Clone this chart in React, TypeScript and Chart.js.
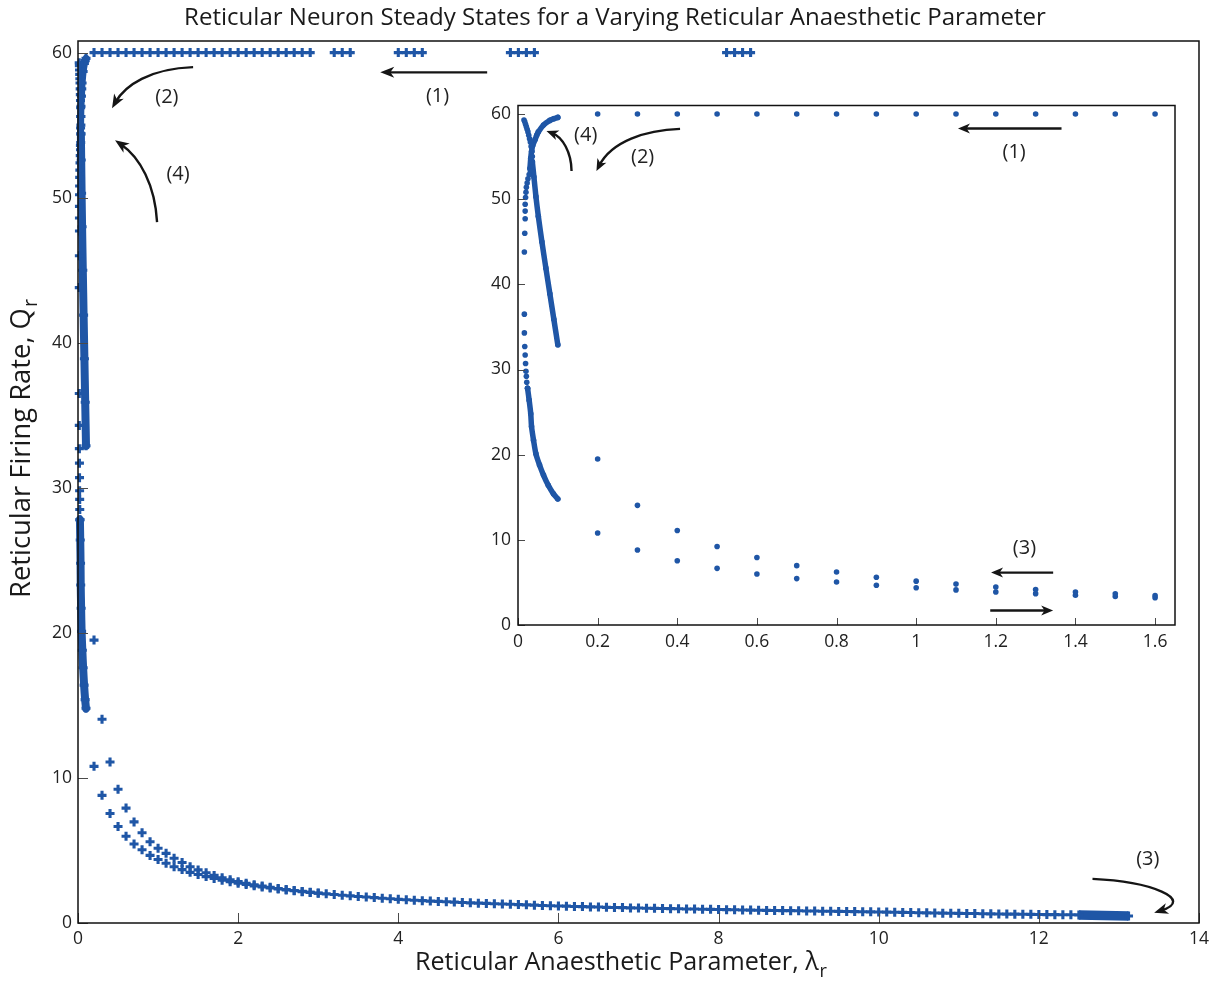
import React, { useEffect, useRef } from 'react';
import { Chart, registerables } from 'chart.js';

Chart.register(...registerables);

// ---------------- data ----------------
const BLUE = '#1f56a6';
const INK = '#222222';
const FONT = "'Open Sans', 'DejaVu Sans', sans-serif";

const TITLE = 'Reticular Neuron Steady States for a Varying Reticular Anaesthetic Parameter';
const X_TITLE = 'Reticular Anaesthetic Parameter, \u03bb';
const Y_TITLE = 'Reticular Firing Rate, Q';
const SUB = 'r';

const MAIN_X_TICKS = [0, 2, 4, 6, 8, 10, 12, 14];
const MAIN_Y_TICKS = [0, 10, 20, 30, 40, 50, 60];
const INSET_X_TICKS = [0, 0.2, 0.4, 0.6, 0.8, 1, 1.2, 1.4, 1.6];
const INSET_Y_TICKS = [0, 10, 20, 30, 40, 50, 60];

// upper steady state (saturated at 60)
const UPPER_STATE = 60;
const TOP_X = [
  0.2, 0.3, 0.4, 0.5, 0.6, 0.7, 0.8, 0.9, 1.0, 1.1,
  1.2, 1.3, 1.4, 1.5, 1.6, 1.7, 1.8, 1.9, 2.0, 2.1,
  2.2, 2.3, 2.4, 2.5, 2.6, 2.7, 2.8, 2.9,
  3.2, 3.3, 3.4,
  4.0, 4.1, 4.2, 4.3,
  5.4, 5.5, 5.6, 5.7,
  8.1, 8.2, 8.3, 8.4,
];

// upper of the two low branches
const LAMBDA_UP = [
  0.2, 0.3, 0.4, 0.5, 0.6, 0.7, 0.8, 0.9, 1.0, 1.1,
  1.2, 1.3, 1.4, 1.5, 1.6, 1.7, 1.8, 1.9, 2.0, 2.1,
  2.2, 2.3, 2.4, 2.5, 2.6, 2.7, 2.8, 2.9, 3.0, 3.1,
  3.2, 3.3, 3.4, 3.5, 3.6, 3.7, 3.8, 3.9, 4.0, 4.1,
  4.2, 4.3, 4.4, 4.5, 4.6, 4.7, 4.8, 4.9, 5.0, 5.1,
  5.2, 5.3, 5.4, 5.5, 5.6, 5.7, 5.8, 5.9, 6.0, 6.1,
  6.2, 6.3, 6.4, 6.5, 6.6, 6.7, 6.8, 6.9, 7.0, 7.1,
  7.2, 7.3, 7.4, 7.5, 7.6, 7.7, 7.8, 7.9, 8.0, 8.1,
  8.2, 8.3, 8.4, 8.5, 8.6, 8.7, 8.8, 8.9, 9.0, 9.1,
  9.2, 9.3, 9.4, 9.5, 9.6, 9.7, 9.8, 9.9, 10.0, 10.1,
  10.2, 10.3, 10.4, 10.5, 10.6, 10.7, 10.8, 10.9, 11.0, 11.1,
  11.2, 11.3, 11.4, 11.5, 11.6, 11.7, 11.8, 11.9, 12.0, 12.1,
  12.2, 12.3, 12.4,
];
const Q_UP = [
  19.5, 14.05, 11.1, 9.22, 7.92, 6.97, 6.22, 5.6, 5.15, 4.8,
  4.46, 4.17, 3.88, 3.66, 3.46, 3.28, 3.12, 2.98, 2.85, 2.74,
  2.64, 2.55, 2.46, 2.38, 2.31, 2.24, 2.18, 2.12, 2.06, 2.01,
  1.96, 1.91, 1.87, 1.83, 1.79, 1.75, 1.71, 1.67, 1.63, 1.6,
  1.57, 1.54, 1.51, 1.49, 1.46, 1.44, 1.41, 1.39, 1.37, 1.35,
  1.33, 1.31, 1.29, 1.27, 1.25, 1.23, 1.21, 1.19, 1.17, 1.16,
  1.14, 1.13, 1.11, 1.1, 1.08, 1.07, 1.06, 1.04, 1.03, 1.02,
  1.01, 1.0, 0.99, 0.98, 0.97, 0.96, 0.95, 0.94, 0.93, 0.92,
  0.91, 0.9, 0.89, 0.88, 0.87, 0.86, 0.855, 0.85, 0.84, 0.83,
  0.825, 0.815, 0.81, 0.8, 0.795, 0.785, 0.78, 0.77, 0.76, 0.75,
  0.74, 0.73, 0.72, 0.71, 0.7, 0.69, 0.68, 0.67, 0.665, 0.655,
  0.65, 0.64, 0.63, 0.625, 0.615, 0.61, 0.6, 0.595, 0.59, 0.58,
  0.575, 0.57, 0.565,
];

// lower of the two low branches
const LAMBDA_LOW = [
  0.2, 0.3, 0.4, 0.5, 0.6, 0.7, 0.8, 0.9, 1.0, 1.1,
  1.2, 1.3, 1.4, 1.5, 1.6, 1.7, 1.8, 1.9, 2.0, 2.1,
  2.2, 2.3, 2.4, 2.5, 2.6, 2.7, 2.8, 2.9, 3.0,
];
const Q_LOW = [
  10.8, 8.8, 7.55, 6.65, 5.98, 5.45, 5.05, 4.66, 4.38, 4.12,
  3.88, 3.68, 3.49, 3.34, 3.2, 3.07, 2.95, 2.84, 2.74, 2.65,
  2.56, 2.48, 2.41, 2.34, 2.28, 2.22, 2.16, 2.11, 2.05,
];

// dense sweep at the far right
const TAIL_X = [12.5, 13.12];
const TAIL_Q = [0.56, 0.48];

// near-zero branches (fine sweep of lambda)
const A_DOT_X = [
  0.015, 0.017, 0.019, 0.021, 0.023, 0.025, 0.027, 0.029, 0.031, 0.033,
  0.035, 0.036, 0.036, 0.034, 0.031, 0.028, 0.025, 0.023, 0.021, 0.02,
  0.019, 0.018, 0.018, 0.018, 0.017, 0.016, 0.016, 0.016, 0.017, 0.018,
  0.019, 0.02, 0.021, 0.022, 0.024,
];
const A_DOT_Q = [
  59.3, 59.1, 58.8, 58.5, 58.2, 57.9, 57.5, 57.1, 56.7, 56.2,
  55.6, 55.0, 54.4, 53.8, 53.3, 52.9, 52.4, 51.9, 51.4, 50.8,
  50.2, 49.4, 48.6, 47.7, 46.0, 43.8, 36.5, 34.3, 32.7, 31.7,
  30.7, 29.8, 29.2, 28.5, 27.8,
];
const A_CURVE_X = [0.024, 0.028, 0.032, 0.034, 0.039, 0.045, 0.054, 0.064, 0.076, 0.089, 0.1];
const A_CURVE_Q = [27.8, 26.4, 24.8, 23.3, 21.7, 20.1, 18.8, 17.6, 16.4, 15.4, 14.8];
const B_X = [0.03, 0.032, 0.034, 0.037, 0.043, 0.047, 0.051, 0.064, 0.08, 0.09, 0.1];
const B_Q = [53.6, 54.8, 55.6, 56.3, 57.0, 57.5, 57.9, 58.7, 59.25, 59.45, 59.6];
const C_X = [0.036, 0.04, 0.045, 0.051, 0.06, 0.07, 0.08, 0.09, 0.1];
const C_Q = [54.4, 52.6, 50.3, 48.0, 45.0, 41.9, 38.9, 35.9, 32.9];

// annotations (data coordinates)
type Pt = [number, number];
interface Arrow { pts: Pt[]; }
interface Label { text: string; at: Pt; }

const MAIN_ARROWS: Arrow[] = [
  { pts: [[5.11, 58.64], [3.775, 58.64]] },
  { pts: [[1.4375, 59.0], [0.9, 58.9], [0.5875, 57.75], [0.425, 56.16]] },
  { pts: [[0.9875, 48.31], [0.9625, 50.86], [0.775, 52.79], [0.4625, 53.96]] },
  { pts: [[12.67, 3.04], [13.4, 2.86], [13.96, 1.62], [13.44, 0.7]] },
];
const MAIN_LABELS: Label[] = [
  { text: '(1)', at: [4.49, 57.0] },
  { text: '(2)', at: [1.11, 56.9] },
  { text: '(4)', at: [1.25, 51.62] },
  { text: '(3)', at: [13.36, 4.37] },
];
const INSET_ARROWS: Arrow[] = [
  { pts: [[1.365, 58.3], [1.105, 58.3]] },
  { pts: [[0.407, 58.25], [0.32, 58.1], [0.235, 56.8], [0.197, 53.3]] },
  { pts: [[0.1345, 53.3], [0.134, 55.5], [0.112, 57.3], [0.0715, 58.0]] },
  { pts: [[1.344, 6.15], [1.188, 6.15]] },
  { pts: [[1.186, 1.71], [1.344, 1.71]] },
];
const INSET_LABELS: Label[] = [
  { text: '(1)', at: [1.246, 55.5] },
  { text: '(2)', at: [0.313, 54.9] },
  { text: '(4)', at: [0.17, 57.5] },
  { text: '(3)', at: [1.272, 9.0] },
];

// ---------------- helpers ----------------
const xy = (xs: number[], ys: number[]) => xs.map((x, i) => ({ x, y: ys[i] }));
const upTo = (pts: { x: number; y: number }[], m: number) => pts.filter((p) => p.x <= m);

interface DecoCfg {
  xTicks: number[];
  yTicks: number[];
  tickLen: number;
  arrows: Arrow[];
  labels: Label[];
  head: number;
  headW: number;
  lw: number;
  labelSize: number;
  whiteBg: boolean;
  titles: boolean;
}

function fitSize(ctx: CanvasRenderingContext2D, text: string, target: number, base: number) {
  ctx.font = `${base}px ${FONT}`;
  const w = ctx.measureText(text).width;
  return (base * target) / w;
}

function makeDeco(cfg: DecoCfg) {
  return {
    id: 'deco',
    beforeDatasetsDraw(chart: any) {
      if (!cfg.whiteBg) return;
      const { ctx, chartArea: a } = chart;
      ctx.save();
      ctx.fillStyle = '#ffffff';
      ctx.fillRect(a.left, a.top, a.right - a.left, a.bottom - a.top);
      ctx.restore();
    },
    afterDraw(chart: any) {
      const { ctx, chartArea: a } = chart;
      const xs = chart.scales.x;
      const ys = chart.scales.y;
      ctx.save();
      // ticks (inward)
      ctx.strokeStyle = '#4a4a4a';
      ctx.lineWidth = 1;
      ctx.beginPath();
      cfg.xTicks.forEach((v) => {
        const px = Math.round(xs.getPixelForValue(v)) + 0.5;
        ctx.moveTo(px, a.bottom);
        ctx.lineTo(px, a.bottom - cfg.tickLen);
      });
      cfg.yTicks.forEach((v) => {
        const py = Math.round(ys.getPixelForValue(v)) + 0.5;
        ctx.moveTo(a.left, py);
        ctx.lineTo(a.left + cfg.tickLen, py);
      });
      ctx.stroke();
      // frame
      ctx.strokeStyle = '#111';
      ctx.lineWidth = 1.5;
      ctx.strokeRect(a.left, a.top, a.right - a.left, a.bottom - a.top);

      // arrows
      ctx.strokeStyle = '#151515';
      ctx.fillStyle = '#151515';
      ctx.lineWidth = cfg.lw;
      cfg.arrows.forEach((ar) => {
        const p = ar.pts.map(([x, y]) => [xs.getPixelForValue(x), ys.getPixelForValue(y)]);
        const tip = p[p.length - 1];
        const prev = p[p.length - 2];
        const ang = Math.atan2(tip[1] - prev[1], tip[0] - prev[0]);
        ctx.beginPath();
        ctx.moveTo(p[0][0], p[0][1]);
        if (p.length === 4) {
          ctx.bezierCurveTo(p[1][0], p[1][1], p[2][0], p[2][1], p[3][0] - Math.cos(ang) * cfg.head * 0.5, p[3][1] - Math.sin(ang) * cfg.head * 0.5);
        } else {
          ctx.lineTo(tip[0] - Math.cos(ang) * cfg.head * 0.6, tip[1] - Math.sin(ang) * cfg.head * 0.6);
        }
        ctx.stroke();
        ctx.save();
        ctx.translate(tip[0], tip[1]);
        ctx.rotate(ang);
        ctx.beginPath();
        ctx.moveTo(0, 0);
        ctx.lineTo(-cfg.head, -cfg.headW / 2);
        ctx.lineTo(-cfg.head * 0.72, 0);
        ctx.lineTo(-cfg.head, cfg.headW / 2);
        ctx.closePath();
        ctx.fill();
        ctx.restore();
      });

      // labels
      ctx.fillStyle = INK;
      ctx.font = `${cfg.labelSize}px ${FONT}`;
      ctx.textAlign = 'center';
      ctx.textBaseline = 'middle';
      cfg.labels.forEach((l) => {
        ctx.fillText(l.text, xs.getPixelForValue(l.at[0]), ys.getPixelForValue(l.at[1]));
      });

      if (cfg.titles) {
        // main title
        let s = fitSize(ctx, TITLE, 862, 20);
        ctx.font = `${s}px ${FONT}`;
        ctx.fillStyle = '#1a1a1a';
        ctx.textAlign = 'center';
        ctx.textBaseline = 'alphabetic';
        ctx.fillText(TITLE, 615, 25);

        // x axis title with subscript
        s = fitSize(ctx, X_TITLE, 404, 22);
        ctx.font = `${s}px ${FONT}`;
        ctx.textAlign = 'left';
        ctx.fillText(X_TITLE, 415, 970);
        const wx = ctx.measureText(X_TITLE).width;
        ctx.font = `${s * 0.72}px ${FONT}`;
        ctx.fillText(SUB, 415 + wx + 1, 977);

        // y axis title with subscript (rotated)
        s = fitSize(ctx, Y_TITLE, 290, 22);
        ctx.save();
        ctx.translate(30, 598);
        ctx.rotate(-Math.PI / 2);
        ctx.font = `${s}px ${FONT}`;
        ctx.fillText(Y_TITLE, 0, 0);
        const wy = ctx.measureText(Y_TITLE).width;
        ctx.font = `${s * 0.72}px ${FONT}`;
        ctx.fillText(SUB, wy + 1, 7);
        ctx.restore();
      }
      ctx.restore();
    },
  };
}

function scales(xMax: number, yMax: number, xT: number[], yT: number[], xH: number, yW: number, pad: number) {
  const tickFont = { family: FONT, size: 17.5 };
  return {
    x: {
      type: 'linear' as const,
      min: 0,
      max: xMax,
      grid: { display: false, drawTicks: false },
      border: { display: false },
      ticks: { color: INK, font: tickFont, padding: pad, maxRotation: 0, callback: (v: any) => String(v) },
      afterBuildTicks: (s: any) => { s.ticks = xT.map((v) => ({ value: v })); },
      afterFit: (s: any) => { s.height = xH; },
    },
    y: {
      type: 'linear' as const,
      min: 0,
      max: yMax,
      grid: { display: false, drawTicks: false },
      border: { display: false },
      ticks: { color: INK, font: tickFont, padding: pad, callback: (v: any) => String(v) },
      afterBuildTicks: (s: any) => { s.ticks = yT.map((v) => ({ value: v })); },
      afterFit: (s: any) => { s.width = yW; },
    },
  };
}

export default function App() {
  const mainRef = useRef<HTMLCanvasElement>(null);
  const insetRef = useRef<HTMLCanvasElement>(null);

  useEffect(() => {
    const top = xy(TOP_X, TOP_X.map(() => UPPER_STATE));
    const up = xy(LAMBDA_UP, Q_UP);
    const low = xy(LAMBDA_LOW, Q_LOW);
    const tail = xy(TAIL_X, TAIL_Q);
    const aDots = xy(A_DOT_X, A_DOT_Q);
    const aCurve = xy(A_CURVE_X, A_CURVE_Q);
    const bCurve = xy(B_X, B_Q);
    const cCurve = xy(C_X, C_Q);

    const plus = {
      showLine: false,
      pointStyle: 'cross',
      pointRadius: 4.5,
      pointBorderWidth: 3.1,
      borderColor: BLUE,
      backgroundColor: BLUE,
      pointBorderColor: BLUE,
    };
    const plusLine = (w: number) => ({
      ...plus,
      showLine: true,
      borderWidth: w,
      tension: 0.3,
      borderCapStyle: 'round',
      borderJoinStyle: 'round',
      clip: false,
    });

    const main = new Chart(mainRef.current!, {
      type: 'scatter',
      data: {
        datasets: [
          { data: top, ...plus },
          { data: up, ...plus },
          { data: low, ...plus },
          { data: tail, ...plus, showLine: true, borderWidth: 9.5, borderCapStyle: 'butt' },
          { data: aDots, ...plus, clip: false },
          { data: aCurve, ...plusLine(8) },
          { data: bCurve, ...plusLine(7) },
          { data: cCurve, ...plusLine(8) },
        ] as any,
      },
      options: {
        responsive: false,
        animation: false,
        events: [],
        layout: { padding: { top: 41, right: 16, bottom: 0, left: 0 } },
        plugins: { legend: { display: false }, tooltip: { enabled: false }, title: { display: false } },
        scales: scales(14, 60.8, MAIN_X_TICKS, MAIN_Y_TICKS, 59, 78, 6) as any,
      },
      plugins: [
        makeDeco({
          xTicks: MAIN_X_TICKS, yTicks: MAIN_Y_TICKS, tickLen: 10,
          arrows: MAIN_ARROWS, labels: MAIN_LABELS,
          head: 14, headW: 11, lw: 2.4, labelSize: 20, whiteBg: false, titles: true,
        }),
      ],
    });

    const dot = {
      showLine: false,
      pointStyle: 'circle',
      pointRadius: 2.8,
      pointBorderWidth: 0,
      borderColor: BLUE,
      backgroundColor: BLUE,
    };
    const dotLine = (w: number) => ({
      ...dot,
      showLine: true,
      borderWidth: w,
      tension: 0.3,
      borderCapStyle: 'round',
      borderJoinStyle: 'round',
    });
    const XM = 1.65;
    const inset = new Chart(insetRef.current!, {
      type: 'scatter',
      data: {
        datasets: [
          { data: upTo(top, XM), ...dot },
          { data: upTo(up, XM), ...dot },
          { data: upTo(low, XM), ...dot },
          { data: aDots, ...dot },
          { data: aCurve, ...dotLine(5.5) },
          { data: bCurve, ...dotLine(5.5) },
          { data: cCurve, ...dotLine(5.5) },
        ] as any,
      },
      options: {
        responsive: false,
        animation: false,
        events: [],
        layout: { padding: { top: 15, right: 15, bottom: 0, left: 0 } },
        plugins: { legend: { display: false }, tooltip: { enabled: false }, title: { display: false } },
        scales: scales(XM, 61, INSET_X_TICKS, INSET_Y_TICKS, 35, 48, 7) as any,
      },
      plugins: [
        makeDeco({
          xTicks: INSET_X_TICKS, yTicks: INSET_Y_TICKS, tickLen: 7,
          arrows: INSET_ARROWS, labels: INSET_LABELS,
          head: 12, headW: 10, lw: 2.4, labelSize: 20, whiteBg: true, titles: false,
        }),
      ],
    });

    return () => {
      main.destroy();
      inset.destroy();
    };
  }, []);

  return (
    <div style={{ position: 'absolute', left: 0, top: 0, width: 1215, height: 982, background: '#ffffff' }}>
      <canvas ref={mainRef} width={1215} height={982} style={{ position: 'absolute', left: 0, top: 0, display: 'block' }} />
      <canvas ref={insetRef} width={720} height={572} style={{ position: 'absolute', left: 470, top: 88, display: 'block' }} />
    </div>
  );
}
